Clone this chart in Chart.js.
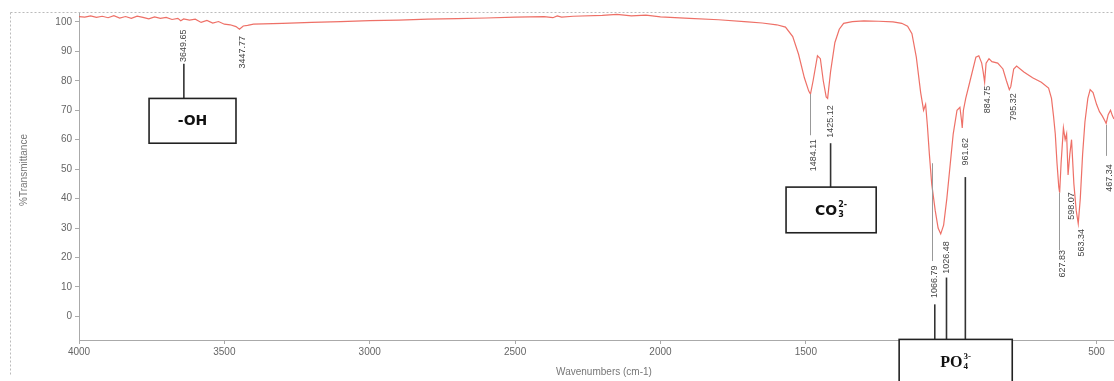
<!DOCTYPE html>
<html><head><meta charset="utf-8">
<script src="https://cdn.jsdelivr.net/npm/chart.js@4.4.0/dist/chart.umd.min.js"></script>
<style>html,body{margin:0;padding:0;background:#fff;overflow:hidden}#wrap{width:1114px;height:381px;position:relative}</style>
</head><body><div id="wrap"><canvas id="c" width="1114" height="381"></canvas></div>
<script>
// ---- data ----
const wavenumbers = [4000,3980,3960,3940,3920,3900,3880,3860,3840,3820,3800,3780,3760,3740,3720,3700,3680,3660,3650,3640,3620,3600,3580,3560,3540,3520,3500,3480,3460,3448,3435,3420,3400,3300,3200,3100,3000,2900,2800,2700,2600,2500,2400,2370,2355,2340,2300,2200,2150,2100,2050,2000,1900,1800,1700,1650,1600,1570,1545,1525,1505,1490,1484,1475,1460,1450,1440,1430,1425,1415,1400,1385,1370,1340,1300,1250,1200,1170,1150,1135,1120,1105,1095,1088,1082,1075,1067,1055,1045,1036,1026,1015,1003,993,980,970,965,962,958,950,935,915,905,895,890,885,880,870,860,840,822,810,800,795,785,775,750,720,690,665,655,648,642,636,630,627,622,614,608,603,598,592,586,578,570,563,556,548,540,530,522,512,500,490,480,472,467,460,452,445,440];
const transmittance = [101.8,101.6,102.0,101.5,101.9,101.4,102.1,101.3,101.8,101.2,101.9,101.5,101.0,101.7,101.2,101.5,100.8,101.2,100.4,101.0,100.6,100.9,99.8,100.5,99.6,100.1,99.2,99.0,98.4,97.5,98.6,98.8,99.2,99.5,99.8,100.1,100.4,100.6,100.9,101.1,101.3,101.6,101.8,101.4,102.0,101.6,101.9,102.2,102.5,102.0,102.3,101.7,101.2,100.7,100.0,99.6,99.0,98.2,95.0,89.0,81.0,76.5,75.5,80.0,88.5,87.5,80.0,74.5,74.0,83.0,93.0,97.5,99.5,100.1,100.3,100.2,100.0,99.5,98.5,96.0,88.0,76.0,70.0,72.0,65.0,55.0,45.0,36.0,30.0,28.0,31.0,40.0,52.0,62.0,70.0,71.0,67.0,64.0,70.0,74.0,80.0,88.0,88.5,86.0,83.0,79.5,86.0,87.5,86.5,86.0,84.0,80.0,77.0,78.0,84.0,85.0,83.0,81.0,79.5,77.5,74.0,68.0,62.0,52.0,44.0,42.0,52.0,64.0,60.0,62.0,48.0,55.0,60.0,45.0,36.0,31.5,40.0,55.0,66.0,74.0,77.0,76.0,72.0,69.5,68.0,66.5,65.5,68.5,70.0,68.0,67.0];

const xTickValues = [4000,3500,3000,2500,2000,1500,1000,500];
const yTickValues = [0,10,20,30,40,50,60,70,80,90,100];
const xTitle = 'Wavenumbers (cm-1)';
const yTitle = '%Transmittance';

// peak annotations
const peakNames = ['3649.65','3447.77','1484.11','1425.12','1066.79','1026.48','961.62','884.75','795.32','627.83','598.07','563.34','467.34'];
const peakPositions = [3649.65,3447.77,1484.11,1425.12,1066.79,1026.48,961.62,884.75,795.32,627.83,598.07,563.34,467.34];
const peakLabelLevels = [91.9,89.7,54.7,66.2,11.8,20.0,55.9,73.6,71.1,17.9,37.5,25.0,47.0];
// thin leader lines from trace to label [peak index, from %T, to %T]
const thinLeaders = [[2,75.5,61.5],[4,52,18.8],[9,42,22.5],[12,65,54.5]];
// thick connector lines [peak index, from %T, to %T]
const boxConnectors = [[0,85.8,74.0],[3,58.8,43.9],[4,4.1,-7.8],[5,13.2,-7.8],[6,47.3,-7.8]];
// group boxes
const boxMain = ['-OH','CO','PO'];
const boxSub = ['','3','4'];
const boxSup = ['','2-','3-'];
const boxFrom = [3759,1568,1179];
const boxTo = [3460,1258,790];
const boxTop = [74.0,43.9,-7.8];
const boxBottom = [58.8,28.4,-27];

const annot = {
  id:'annot',
  beforeDraw(chart){
    const c = chart.ctx;
    c.save();
    c.fillStyle='#fff'; c.fillRect(0,0,chart.width,chart.height);
    c.strokeStyle='#bbb'; c.lineWidth=1; c.setLineDash([2,2]);
    c.beginPath(); c.moveTo(10.5,12.5); c.lineTo(chart.width,12.5);
    c.moveTo(10.5,12.5); c.lineTo(10.5,375); c.stroke();
    c.restore();
  },
  afterDraw(chart){
    const c = chart.ctx, xs = chart.scales.x, ys = chart.scales.y;
    c.save();
    // titles
    c.fillStyle='#777'; c.font='10px "Liberation Sans", Arial, sans-serif';
    c.textAlign='center'; c.textBaseline='middle';
    c.fillText(xTitle, 604, 372);
    c.save(); c.translate(24,170); c.rotate(-Math.PI/2); c.fillText(yTitle,0,0); c.restore();
    // thin leaders
    c.strokeStyle='#999'; c.lineWidth=1;
    thinLeaders.forEach(([i,a,b])=>{
      const px = Math.round(xs.getPixelForValue(peakPositions[i]))+0.5;
      c.beginPath(); c.moveTo(px, ys.getPixelForValue(a)); c.lineTo(px, ys.getPixelForValue(b)); c.stroke();
    });
    // thick connectors
    c.strokeStyle='#333'; c.lineWidth=1.6;
    boxConnectors.forEach(([i,a,b])=>{
      const px = xs.getPixelForValue(peakPositions[i])+3;
      c.beginPath(); c.moveTo(px, ys.getPixelForValue(a)); c.lineTo(px, ys.getPixelForValue(b)); c.stroke();
    });
    // peak labels
    c.fillStyle='#444'; c.font='9px "Liberation Sans", Arial, sans-serif';
    peakNames.forEach((t,i)=>{
      const px = xs.getPixelForValue(peakPositions[i])+3;
      const py = ys.getPixelForValue(peakLabelLevels[i]);
      c.save(); c.translate(px,py); c.rotate(-Math.PI/2);
      c.textAlign='center'; c.textBaseline='middle'; c.fillText(t,0,0); c.restore();
    });
    // boxes
    boxMain.forEach((t,i)=>{
      const x1 = xs.getPixelForValue(boxFrom[i]), x2 = xs.getPixelForValue(boxTo[i]);
      const y1 = ys.getPixelForValue(boxTop[i]), y2 = ys.getPixelForValue(boxBottom[i]);
      c.fillStyle='#fff'; c.fillRect(x1,y1,x2-x1,y2-y1);
      c.strokeStyle='#222'; c.lineWidth=1.6; c.strokeRect(x1,y1,x2-x1,y2-y1);
      const cx=(x1+x2)/2, cy = i===2 ? 362 : (y1+y2)/2;
      c.fillStyle='#111'; c.textBaseline='middle'; c.textAlign='left';
      const serif = i===2;
      const mainFont = serif ? 'bold 16px "Liberation Serif", serif' : 'bold 14px "DejaVu Sans", sans-serif';
      const smallFont = serif ? 'bold 9px "Liberation Serif", serif' : 'bold 8px "DejaVu Sans", sans-serif';
      c.font = mainFont; const w1 = c.measureText(t).width;
      c.font = smallFont; const w2 = Math.max(c.measureText(boxSub[i]).width, c.measureText(boxSup[i]).width);
      const total = w1 + (boxSub[i]||boxSup[i] ? w2+1 : 0);
      let sx = cx - total/2;
      c.font = mainFont; c.fillText(t, sx, cy+1);
      if(boxSub[i]){ c.font=smallFont; c.fillText(boxSub[i], sx+w1+1, cy+5); }
      if(boxSup[i]){ c.font=smallFont; c.fillText(boxSup[i], sx+w1+1, cy-5); }
    });
    c.restore();
  }
};

new Chart(document.getElementById('c'), {
  type:'line',
  data:{datasets:[{
    data: wavenumbers.map((w,i)=>({x:w, y:transmittance[i]})),
    borderColor:'rgba(236,96,86,0.9)', borderWidth:1.2, pointRadius:0, tension:0, fill:false
  }]},
  options:{
    responsive:false, animation:false, devicePixelRatio:1,
    layout:{padding:{top:13,right:0,left:0,bottom:0}},
    plugins:{legend:{display:false}, tooltip:{enabled:false}},
    scales:{
      x:{type:'linear', reverse:true, min:440, max:4000,
        afterBuildTicks:s=>{s.ticks = xTickValues.map(v=>({value:v}));},
        afterFit:s=>{s.height=41;},
        grid:{drawOnChartArea:false, drawTicks:true, tickLength:4, color:'#aaa'},
        border:{display:true, color:'#aaa', dash:[2,2]},
        ticks:{color:'#666', font:{size:10, family:'"Liberation Sans", Arial, sans-serif'}, padding:2, maxRotation:0, autoSkip:false, callback:v=>String(v)}
      },
      y:{min:-8, max:103,
        afterBuildTicks:s=>{s.ticks = yTickValues.map(v=>({value:v}));},
        afterFit:s=>{s.width=79;},
        grid:{drawOnChartArea:false, drawTicks:true, tickLength:4, color:'#aaa'},
        border:{display:true, color:'#aaa', dash:[2,2]},
        ticks:{color:'#666', font:{size:10, family:'"Liberation Sans", Arial, sans-serif'}, padding:3, autoSkip:false, callback:v=>String(v)}
      }
    }
  },
  plugins:[annot]
});
</script></body></html>
